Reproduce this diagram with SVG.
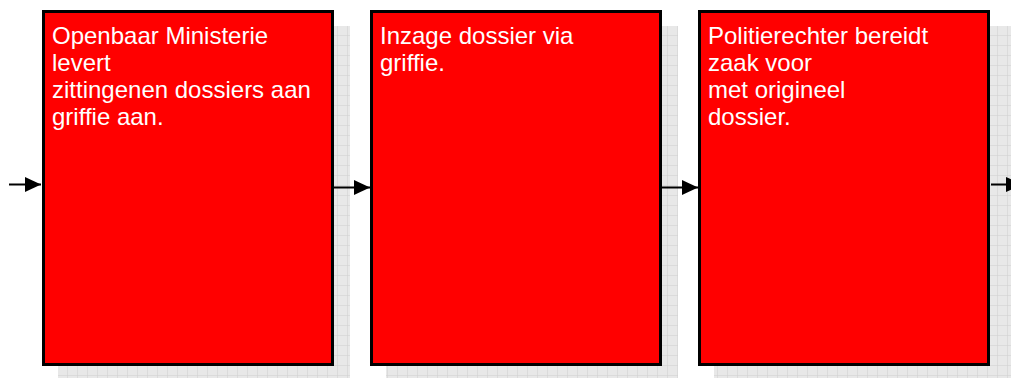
<svg xmlns="http://www.w3.org/2000/svg" width="1011" height="378" viewBox="0 0 1011 378">
  <defs>
    <pattern id="grid" width="10" height="10" patternUnits="userSpaceOnUse" x="8" y="6">
      <rect width="10" height="10" fill="#e8e8e8"/>
      <path d="M10,0 V10 M0,10 H10" stroke="#cfcfcf" stroke-width="1" fill="none"/>
    </pattern>
    <marker id="arrow" markerUnits="userSpaceOnUse" markerWidth="16" markerHeight="16" refX="16" refY="8" orient="auto">
      <path d="M0,0.5 L16,8 L0,15.5 z" fill="#000"/>
    </marker>
    <style>
      .shadow { fill: url(#grid); }
      .box { fill: #ff0000; stroke: #000; stroke-width: 3; }
      .label { font-family: "Liberation Sans", Arial, sans-serif; font-size: 24px; fill: #ffffff; }
      .conn { stroke: #000; stroke-width: 2; fill: none; marker-end: url(#arrow); }
    </style>
  </defs>
  <rect width="1011" height="378" fill="#ffffff"/>

  <g id="node1">
    <rect class="shadow" x="58" y="26" width="292" height="356"/>
    <rect class="box" x="43.5" y="11.5" width="289" height="353"/>
    <text class="label">
      <tspan x="52" y="44">Openbaar Ministerie</tspan>
      <tspan x="52" y="71">levert</tspan>
      <tspan x="52" y="98">zittingenen dossiers aan</tspan>
      <tspan x="52" y="125">griffie aan.</tspan>
    </text>
  </g>

  <g id="node2">
    <rect class="shadow" x="386" y="26" width="292" height="356"/>
    <rect class="box" x="371.5" y="11.5" width="289" height="353"/>
    <text class="label">
      <tspan x="380" y="44">Inzage dossier via</tspan>
      <tspan x="380" y="71">griffie.</tspan>
    </text>
  </g>

  <g id="node3">
    <rect class="shadow" x="714" y="26" width="297" height="356"/>
    <rect class="box" x="699.5" y="11.5" width="289" height="353"/>
    <text class="label">
      <tspan x="708" y="44">Politierechter bereidt</tspan>
      <tspan x="708" y="71">zaak voor</tspan>
      <tspan x="708" y="98">met origineel</tspan>
      <tspan x="708" y="125">dossier.</tspan>
    </text>
  </g>

  <g id="connectors">
    <path class="conn" d="M9,184.5 H41"/>
    <path class="conn" d="M334,187.5 H370"/>
    <path class="conn" d="M662,187.5 H698"/>
    <path class="conn" d="M991,184.5 H1022"/>
  </g>
</svg>
